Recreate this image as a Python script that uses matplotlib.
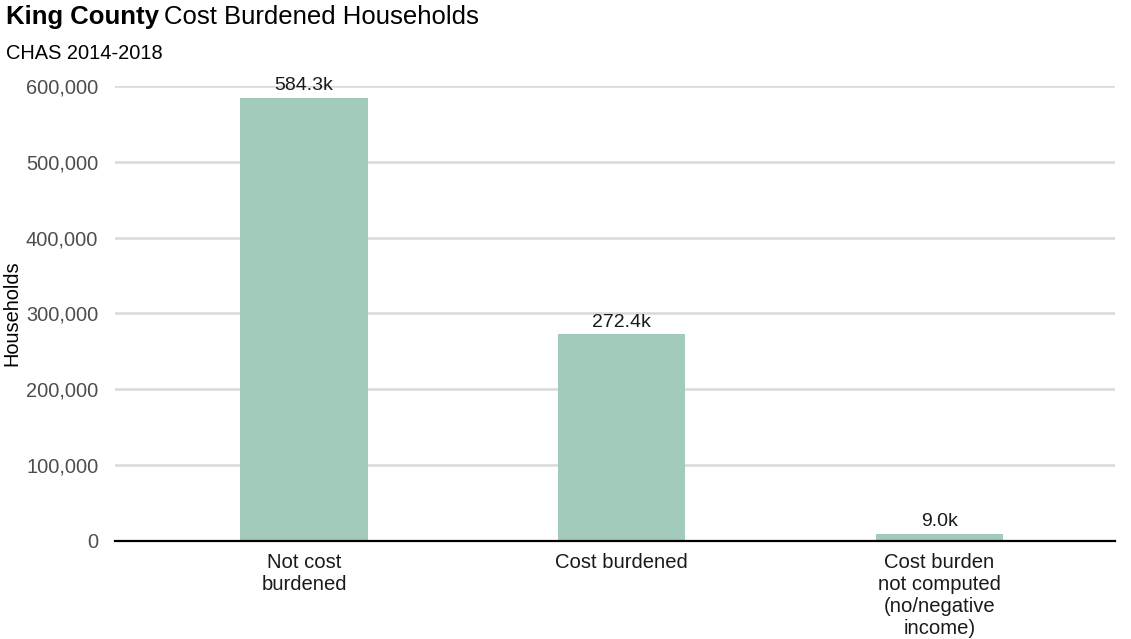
import matplotlib.pyplot as plt
from matplotlib.ticker import FuncFormatter

categories = ["Not cost\nburdened", "Cost burdened",
              "Cost burden\nnot computed\n(no/negative\nincome)"]
households = [584300, 272400, 9000]
bar_labels = ["584.3k", "272.4k", "9.0k"]

plt.rcParams['font.family'] = ['Liberation Sans', 'DejaVu Sans']

fig = plt.figure(figsize=(11.31, 6.39), dpi=100)
ax = fig.add_axes([0.1017, 0.1534, 0.8843, 0.712])

x = range(len(categories))
bars = ax.bar(x, households, width=0.4, color="#a3cbbb", zorder=2)
for b, lab in zip(bars, bar_labels):
    ax.text(b.get_x() + b.get_width() / 2, b.get_height() + 5000, lab,
            ha="center", va="bottom", fontsize=14, color="#1a1a1a")

ax.set_xlim(-0.595, 2.554)
ax.set_ylim(0, 600000)
ax.set_yticks(range(0, 600001, 100000))
ax.yaxis.set_major_formatter(FuncFormatter(lambda v, p: f"{int(v):,}"))
ax.set_xticks(list(x))
ax.set_xticklabels(categories, fontsize=14.6, color="#1a1a1a", linespacing=1.2)
ax.tick_params(axis="y", labelsize=14.4, labelcolor="#4d4d4d", length=0, pad=12)
ax.tick_params(axis="x", length=0, pad=9)
ax.grid(axis="y", color="#d9d9d9", linewidth=1.8, zorder=0)
ax.set_axisbelow(True)
for s in ["top", "right", "left"]:
    ax.spines[s].set_visible(False)
ax.spines["bottom"].set_color("black")
ax.spines["bottom"].set_linewidth(1.6)
ax.spines["bottom"].set_zorder(3)

ax.set_ylabel("Households", fontsize=14.4, color="black")
ax.yaxis.set_label_coords(-0.094, 0.5)

# title: bold county name followed by regular text
t1 = fig.text(0.005, 0.973, "King County", fontsize=18.5, fontweight="bold", va="center")
fig.canvas.draw()
bb = t1.get_window_extent()
fig.text(bb.x1 / fig.bbox.width + 0.005, 0.973, "Cost Burdened Households",
         fontsize=18.5, va="center")
fig.text(0.005, 0.916, "CHAS 2014-2018", fontsize=14.4, va="center")

fig.savefig("out.png", dpi=100)
